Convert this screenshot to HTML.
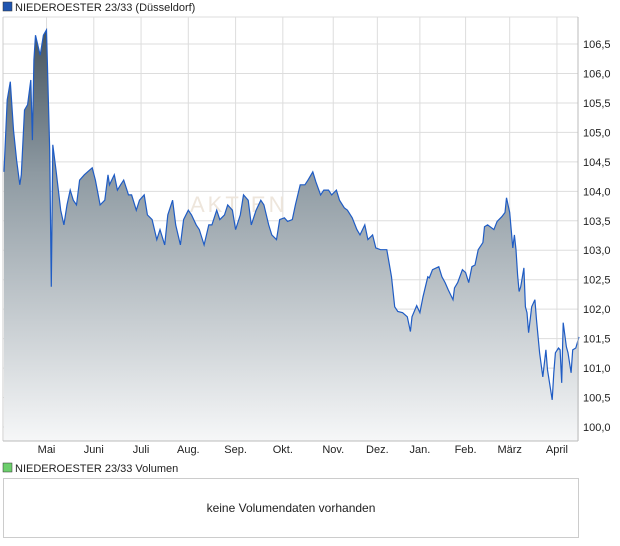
<!DOCTYPE html>
<html><head><meta charset="utf-8"><style>
body{margin:0;background:#fff;font-family:"Liberation Sans",sans-serif;}
svg{display:block}
</style></head><body>
<svg width="620" height="546" xmlns="http://www.w3.org/2000/svg">
<defs><linearGradient id="g" x1="0" y1="0" x2="0" y2="1">
<stop offset="0" stop-color="#44535f"/><stop offset="0.35" stop-color="#8e9aa2"/><stop offset="1" stop-color="#f6f7f8"/></linearGradient></defs>
<rect x="3" y="2" width="9" height="9" fill="#1f55b0" stroke="#333" stroke-width="0.5"/>
<text x="15" y="11" font-size="11" fill="#222">NIEDEROESTER 23/33 (Düsseldorf)</text>
<g id="grid"></g>
<text x="190" y="212" font-size="22" fill="#eee6dc" letter-spacing="3">AKTIEN</text>
<path id="area" fill="url(#g)"/>
<path id="line" fill="none" stroke="#1f5cc4" stroke-width="1.2"/>
<line x1="578" y1="17" x2="578" y2="441" stroke="#bbb"/>
<line x1="3" y1="17" x2="3" y2="441" stroke="#ccc"/>
<line x1="3" y1="441" x2="578" y2="441" stroke="#bbb"/>
<g id="labels" font-size="11" fill="#222"></g>
<rect x="3" y="463" width="9" height="9" fill="#6ccf6c" stroke="#333" stroke-width="0.5"/>
<text x="15" y="472" font-size="11" fill="#222">NIEDEROESTER 23/33 Volumen</text>
<rect x="3.5" y="478.5" width="575" height="59" fill="#fff" stroke="#ccc"/>
<text x="291" y="512" font-size="12" fill="#222" text-anchor="middle">keine Volumendaten vorhanden</text>
</svg>
<script>
const days=[0,2,4,6,8,10,11,13,15,17,18,19,20,23,25,27,29,30,31,33,36,38,40,42,44,46,48,51,53,56,58,61,64,66,67,70,72,74,76,79,81,84,86,89,91,94,97,99,102,104,107,109,112,114,117,119,122,124,127,130,132,135,137,140,142,145,147,150,152,155,157,160,163,165,168,170,173,175,178,180,183,185,188,191,193,196,198,201,203,206,208,211,213,216,218,221,224,226,229,231,234,236,239,243,246,248,250,253,256,258,259,262,264,266,269,270,272,276,278,280,282,285,286,288,291,293,295,297,299,301,304,305,307,311,313,316,318,319,321,323,324,325,326,327,328,330,331,332,333,335,337,338,340,342,344,345,348,349,350,352,353,354,355,357,358,360,361,363,365];
const prices=[104.33,105.55,105.86,105.04,104.53,104.11,104.28,105.38,105.47,105.89,104.87,106.23,106.65,106.31,106.65,106.74,104.70,102.38,104.79,104.36,103.68,103.43,103.77,104.02,103.85,103.77,104.19,104.28,104.33,104.40,104.19,103.77,103.85,104.28,104.11,104.28,104.02,104.11,104.19,103.94,103.94,103.68,103.85,103.94,103.60,103.52,103.18,103.35,103.09,103.60,103.85,103.43,103.09,103.52,103.68,103.60,103.43,103.35,103.09,103.43,103.43,103.68,103.52,103.60,103.77,103.68,103.35,103.60,103.94,103.85,103.43,103.68,103.85,103.77,103.43,103.26,103.18,103.52,103.55,103.49,103.52,103.77,104.11,104.11,104.19,104.33,104.16,103.94,104.02,104.02,103.94,104.02,103.85,103.72,103.68,103.55,103.35,103.26,103.43,103.18,103.26,103.04,103.01,103.01,102.55,102.04,101.96,101.94,101.87,101.62,101.87,102.06,101.94,102.21,102.55,102.53,102.67,102.72,102.55,102.45,102.33,102.16,102.36,102.45,102.67,102.62,102.45,102.72,102.75,103.01,103.13,103.40,103.43,103.35,103.49,103.57,103.64,103.89,103.64,103.04,103.26,103.01,102.58,102.30,102.38,102.70,102.04,101.94,101.60,102.04,102.16,101.82,101.26,100.85,101.31,100.97,100.46,100.92,101.26,101.34,101.31,100.75,101.77,101.36,101.26,100.92,101.31,101.34,101.53];
const yTicks=[100,100.5,101,101.5,102,102.5,103,103.5,104,104.5,105,105.5,106,106.5];
const monthLabels=["Mai","Juni","Juli","Aug.","Sep.","Okt.","Nov.","Dez.","Jan.","Feb.","März","April"];
const monthDays=[27,57,87,117,147,177,209,237,264,293,321,351];
const X0=4,X1=579,D1=365,Y0=427,PER=58.92;
const xs=d=>X0+(X1-X0)*d/D1;
const ys=v=>Y0-(v-100)*PER;
const NS="http://www.w3.org/2000/svg";
const gridG=document.getElementById('grid'),labelsG=document.getElementById('labels');
yTicks.forEach(t=>{
 const l=document.createElementNS(NS,'line');
 l.setAttribute('x1',3);l.setAttribute('x2',578);l.setAttribute('y1',ys(t));l.setAttribute('y2',ys(t));
 l.setAttribute('stroke','#ddd');
 
 
 gridG.appendChild(l);
 const tx=document.createElementNS(NS,'text');
 tx.setAttribute('x',583);tx.setAttribute('y',ys(t)+4);
 tx.textContent=t.toFixed(1).replace('.',',');
 
 
 labelsG.appendChild(tx);
});
monthLabels.forEach((m,i)=>{
 const x=xs(monthDays[i]);
 const l=document.createElementNS(NS,'line');
 l.setAttribute('x1',x);l.setAttribute('x2',x);l.setAttribute('y1',17);l.setAttribute('y2',441);
 l.setAttribute('stroke','#ddd');
 
 
 gridG.appendChild(l);
 const tx=document.createElementNS(NS,'text');
 tx.setAttribute('x',x);tx.setAttribute('y',453);tx.setAttribute('text-anchor','middle');
 tx.textContent=m;
 
 
 labelsG.appendChild(tx);
});
const topBorder=document.createElementNS(NS,'line');
topBorder.setAttribute('x1',3);topBorder.setAttribute('x2',578);topBorder.setAttribute('y1',17);topBorder.setAttribute('y2',17);topBorder.setAttribute('stroke','#ddd');


gridG.appendChild(topBorder);
let pathD='';
days.forEach((dd,i)=>{pathD+=(i?'L':'M')+xs(dd).toFixed(1)+','+ys(prices[i]).toFixed(1);});
document.getElementById('line').setAttribute('d',pathD);
document.getElementById('area').setAttribute('d',pathD+'L'+xs(days[days.length-1]).toFixed(1)+',441L'+xs(days[0]).toFixed(1)+',441Z');
</script>
</body></html>
